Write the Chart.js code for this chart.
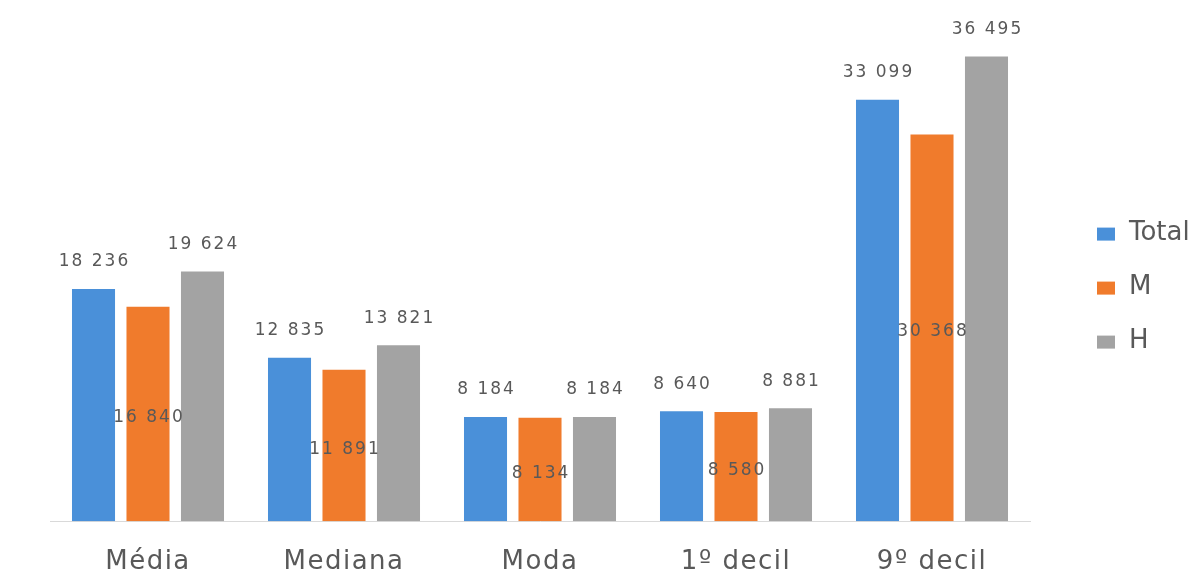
<!DOCTYPE html>
<html>
<head>
<meta charset="utf-8">
<script src="https://cdn.jsdelivr.net/npm/chart.js@4.4.0/dist/chart.umd.min.js"></script>
<style>
  html, body { margin: 0; padding: 0; background: #fff; }
  #wrap { width: 1201px; height: 572px; }
</style>
</head>
<body>
<div id="wrap"><canvas id="chart" width="1201" height="572"></canvas></div>
<script>
const categories = ['Média', 'Mediana', 'Moda', '1º decil', '9º decil']
const totalValues = [18236, 12835, 8184, 8640, 33099]
const mValues = [16840, 11891, 8134, 8580, 30368]
const hValues = [19624, 13821, 8184, 8881, 36495]

const FONT = '"DejaVu Sans", sans-serif'
const TEXT_COLOR = '#595959'

const fmt = (v) => String(v).replace(/\B(?=(\d{3})+(?!\d))/g, ' ')

// slightly wide letter spacing like the original (tick labels get it from here)
const spacing = {
    id: 'spacing',
    beforeDraw(chart) { chart.ctx.letterSpacing = '1.5px' },
    afterDraw(chart) { chart.ctx.letterSpacing = '0px' }
}

// value labels: Total and H above the bar, M in the middle of it
const valueLabels = {
    id: 'valueLabels',
    afterDatasetsDraw(chart) {
        const ctx = chart.ctx
        ctx.save()
        ctx.font = '17px ' + FONT
        ctx.letterSpacing = '2px'
        ctx.fillStyle = TEXT_COLOR
        ctx.textAlign = 'center'
        ctx.textBaseline = 'middle'
        chart.data.datasets.forEach((ds, di) => {
            const meta = chart.getDatasetMeta(di)
            meta.data.forEach((bar, i) => {
                const text = fmt(ds.data[i])
                if (di === 1) {
                    ctx.fillText(text, bar.x + 1, (bar.y + bar.base) / 2 + 4)
                } else {
                    ctx.fillText(text, bar.x + 1, bar.y - 27)
                }
            })
        })
        ctx.restore()
    }
}

// legend on the right, drawn by hand so it sits where the original has it
const sideLegend = {
    id: 'sideLegend',
    afterDraw(chart) {
        const ctx = chart.ctx
        const area = chart.chartArea
        ctx.save()
        ctx.font = '26px ' + FONT
        ctx.letterSpacing = '0px'
        ctx.textBaseline = 'middle'
        ctx.textAlign = 'left'
        const midY = (area.top + area.bottom) / 2
        chart.data.datasets.forEach((ds, di) => {
            const y = midY - 33 + di * 54
            const x = area.right + 67
            ctx.fillStyle = ds.backgroundColor
            ctx.fillRect(x, y - 6, 18, 13)
            ctx.fillStyle = TEXT_COLOR
            ctx.fillText(ds.label, x + 32, y)
        })
        ctx.restore()
    }
}

new Chart(document.getElementById('chart'), {
    type: 'bar',
    data: {
        labels: categories,
        datasets: [
            { label: 'Total', data: totalValues, backgroundColor: '#4a90d9' },
            { label: 'M', data: mValues, backgroundColor: '#f07b2c' },
            { label: 'H', data: hValues, backgroundColor: '#a3a3a3' },
        ]
    },
    options: {
        responsive: false,
        animation: false,
        layout: { padding: { left: 50, top: 12, right: 171, bottom: -24 } },
        datasets: {
            bar: { categoryPercentage: 0.834, barPercentage: 0.79 }
        },
        plugins: {
            legend: { display: false },
            tooltip: { enabled: false }
        },
        scales: {
            x: {
                grid: { display: false },
                border: { color: '#d9d9d9', width: 1 },
                ticks: {
                    color: TEXT_COLOR,
                    padding: 23,
                    font: { family: FONT, size: 26, lineHeight: 0.8 }
                }
            },
            y: {
                display: false,
                min: 0,
                max: 40000
            }
        }
    },
    plugins: [spacing, valueLabels, sideLegend]
})
</script>
</body>
</html>
